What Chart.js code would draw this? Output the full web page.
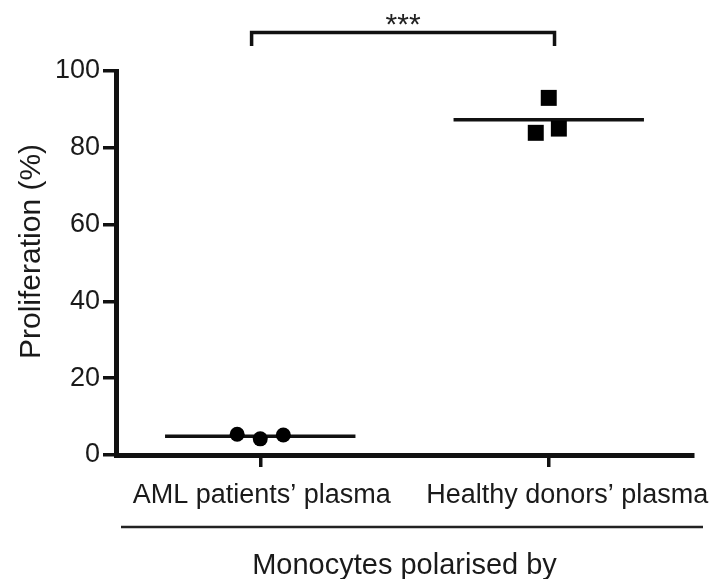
<!DOCTYPE html>
<html>
<head>
<meta charset="utf-8">
<script src="https://cdn.jsdelivr.net/npm/chart.js@4.4.1/dist/chart.umd.min.js"></script>
<style>
  html, body { margin: 0; padding: 0; background: #fff; }
  #wrap { width: 718px; height: 579px; }
</style>
</head>
<body>
<div id="wrap"><canvas id="chart" width="718" height="579"></canvas></div>
<script>
// Data
const groups = ['AML patients\u2019 plasma', 'Healthy donors\u2019 plasma'];
const groupPos = [1, 2];
const groupLabelPos = [1.005, 2.064];
const amlX = [0.92, 1.0, 1.08];
const amlY = [5.4, 4.2, 5.2];
const healthyX = [2.0, 1.955, 2.035];
const healthyY = [93.0, 83.9, 85.0];
const groupMeans = [4.9, 87.3];
const meanHalfWidth = 0.33;
const yTicks = [0, 20, 40, 60, 80, 100];
const sigLabel = '***';
const bracketFrom = 0.97, bracketTo = 2.02;
const bracketY = 110, bracketDrop = 3.5;
const xTitle = 'Monocytes polarised by';
const yTitle = 'Proliferation (%)';
const yTitleCenter = 53;

const FONT = '"Liberation Sans", Arial, Helvetica, sans-serif';
const INK = '#111';
const TEXT = '#1a1a1a';

function points(xs, ys) {
    return xs.map((v, i) => ({ x: v, y: ys[i] }));
}

function meanLine(i) {
    return [
        { x: groupPos[i] - meanHalfWidth, y: groupMeans[i] },
        { x: groupPos[i] + meanHalfWidth, y: groupMeans[i] }
    ];
}

// Bracket, stars, group labels, y title and the line under the group labels
const annotate = {
    id: 'annotate',
    afterDraw(chart) {
        const { ctx, chartArea, scales: { x, y } } = chart;
        ctx.save();
        ctx.strokeStyle = INK;
        ctx.lineWidth = 3.5;
        const x1 = x.getPixelForValue(bracketFrom);
        const x2 = x.getPixelForValue(bracketTo);
        const yTop = y.getPixelForValue(bracketY);
        const yEnd = y.getPixelForValue(bracketY - bracketDrop);
        ctx.beginPath();
        ctx.moveTo(x1, yEnd);
        ctx.lineTo(x1, yTop);
        ctx.lineTo(x2, yTop);
        ctx.lineTo(x2, yEnd);
        ctx.stroke();

        ctx.fillStyle = '#222';
        ctx.font = '30px ' + FONT;
        ctx.textAlign = 'center';
        ctx.textBaseline = 'alphabetic';
        ctx.fillText(sigLabel, (x1 + x2) / 2, yTop + 1);

        // group labels
        ctx.fillStyle = TEXT;
        ctx.font = '27px ' + FONT;
        groups.forEach((g, i) => {
            ctx.fillText(g, x.getPixelForValue(groupLabelPos[i]), chartArea.bottom + 48);
        });

        // y title
        ctx.save();
        ctx.font = '30px ' + FONT;
        ctx.translate(40, y.getPixelForValue(yTitleCenter));
        ctx.rotate(-Math.PI / 2);
        ctx.fillText(yTitle, 0, 0);
        ctx.restore();

        ctx.lineWidth = 2.5;
        ctx.strokeStyle = '#222';
        const sy = chartArea.bottom + 72;
        ctx.beginPath();
        ctx.moveTo(chartArea.left + 5, sy);
        ctx.lineTo(chartArea.right + 10, sy);
        ctx.stroke();
        ctx.restore();
    }
};

new Chart(document.getElementById('chart'), {
    type: 'scatter',
    data: {
        datasets: [
            {
                data: points(amlX, amlY),
                pointStyle: 'circle',
                pointRadius: 7.5,
                backgroundColor: '#000',
                borderColor: '#000',
                borderWidth: 0
            },
            {
                data: points(healthyX, healthyY),
                pointStyle: 'rect',
                pointRadius: 11.3,
                backgroundColor: '#000',
                borderColor: '#000',
                borderWidth: 0
            },
            {
                type: 'line',
                data: meanLine(0),
                borderColor: INK,
                borderWidth: 3.5,
                pointRadius: 0
            },
            {
                type: 'line',
                data: meanLine(1),
                borderColor: INK,
                borderWidth: 3.5,
                pointRadius: 0
            }
        ]
    },
    options: {
        responsive: false,
        animation: false,
        layout: { padding: { top: 71, right: 25, bottom: 0, left: 0 } },
        plugins: {
            legend: { display: false },
            tooltip: { enabled: false }
        },
        scales: {
            x: {
                type: 'linear',
                min: 0.5,
                max: 2.5,
                afterFit: (axis) => { axis.height = 124; },
                afterBuildTicks: (axis) => { axis.ticks = groupPos.map(v => ({ value: v })); },
                border: { display: true, color: INK, width: 5 },
                grid: { drawOnChartArea: false, drawTicks: true, tickLength: 12, lineWidth: 3.5, color: INK },
                ticks: { display: false },
                title: {
                    display: true,
                    text: xTitle,
                    color: TEXT,
                    font: { family: FONT, size: 29, lineHeight: 0.9 },
                    padding: { top: 0, bottom: 0 }
                }
            },
            y: {
                min: 0,
                max: 100,
                afterFit: (axis) => { axis.width = 116; },
                afterBuildTicks: (axis) => { axis.ticks = yTicks.map(v => ({ value: v })); },
                border: { display: true, color: INK, width: 5 },
                grid: { drawOnChartArea: false, drawTicks: true, tickLength: 13, lineWidth: 3.5, color: INK },
                ticks: {
                    padding: 3,
                    color: TEXT,
                    font: { family: FONT, size: 27 }
                },
                title: { display: false }
            }
        }
    },
    plugins: [annotate]
});
</script>
</body>
</html>
